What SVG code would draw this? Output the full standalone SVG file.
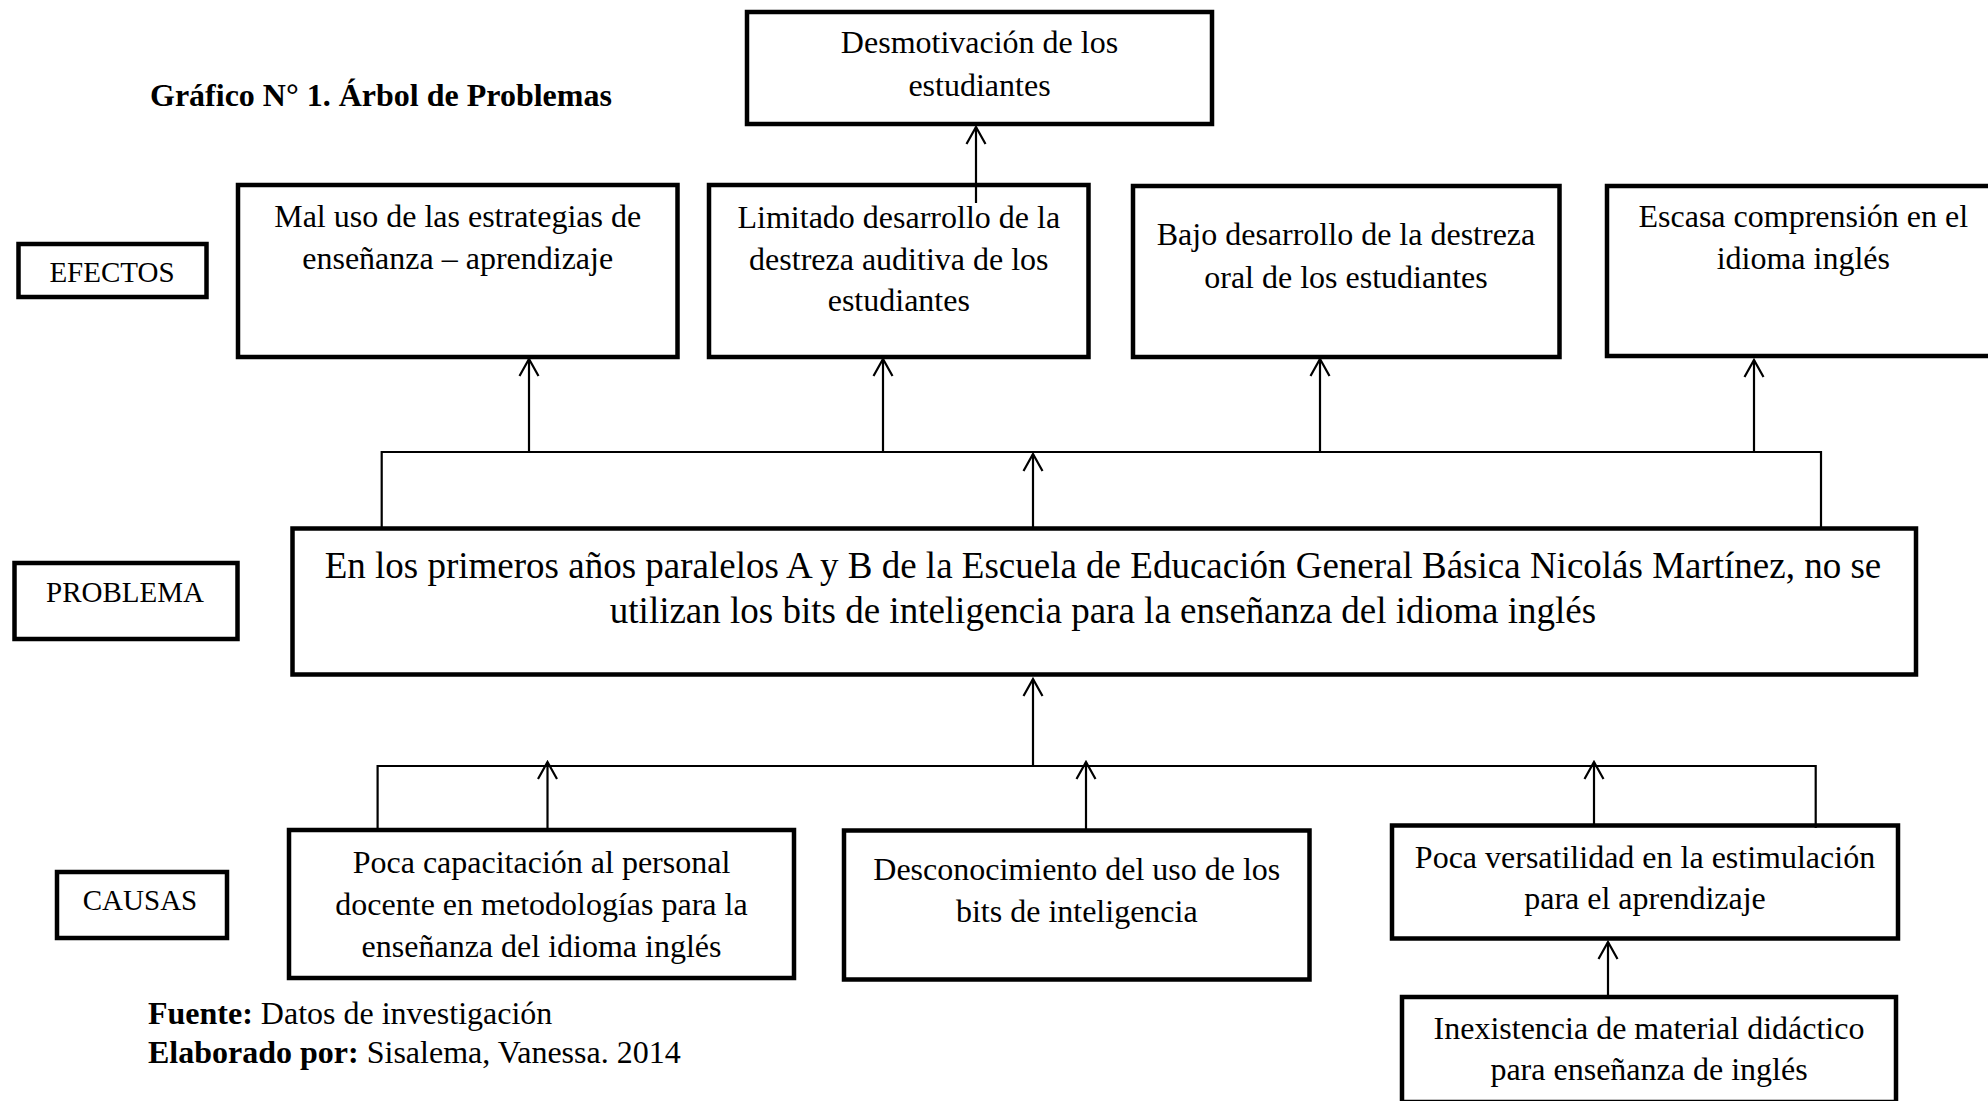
<svg xmlns="http://www.w3.org/2000/svg" width="1988" height="1101" viewBox="0 0 1988 1101">
<style>
.box{fill:#fff;stroke:#000;stroke-width:4.5}
.t{font-family:"Liberation Serif","Times New Roman",serif;font-size:32px;fill:#000;text-anchor:middle}
.lbl{font-family:"Liberation Serif","Times New Roman",serif;font-size:29px;fill:#000;text-anchor:middle}
.pt{font-family:"Liberation Serif","Times New Roman",serif;font-size:37px;fill:#000;text-anchor:middle}
.cap{font-family:"Liberation Serif","Times New Roman",serif;font-size:32px;fill:#000}
.b{font-weight:bold}
.c{fill:none;stroke:#000;stroke-width:2.2}
</style>
<defs>
<marker id="ah" viewBox="-20 -12 22 24" refX="0" refY="0" markerWidth="22" markerHeight="24" markerUnits="userSpaceOnUse" orient="auto">
<path d="M -17 -9.5 L 0 0 L -17 9.5" fill="none" stroke="#000" stroke-width="2.2"/>
</marker>
</defs>
<rect width="1988" height="1101" fill="#fff"/>

<text class="cap b" x="150" y="106">Gráfico N° 1. Árbol de Problemas</text>

<g id="efectos-label"><rect class="box" x="18.5" y="244" width="188" height="53"/><text class="lbl" x="112" y="282">EFECTOS</text></g>
<g id="problema-label"><rect class="box" x="14.5" y="563" width="223" height="76"/><text class="lbl" x="125" y="602">PROBLEMA</text></g>
<g id="causas-label"><rect class="box" x="57" y="872" width="170" height="66"/><text class="lbl" x="140" y="910">CAUSAS</text></g>

<g id="desmotivacion"><rect class="box" x="747" y="12" width="465" height="112"/>
<text class="t" x="979.5" y="53">Desmotivación de los</text><text class="t" x="979.5" y="96">estudiantes</text></g>

<g id="mal-uso"><rect class="box" x="238" y="185" width="439.5" height="172"/>
<text class="t" x="457.7" y="227">Mal uso de las estrategias de</text><text class="t" x="457.7" y="269">enseñanza – aprendizaje</text></g>

<g id="limitado"><rect class="box" x="709" y="185" width="379.5" height="172"/>
<text class="t" x="898.8" y="227.5">Limitado desarrollo de la</text><text class="t" x="898.8" y="270">destreza auditiva de los</text><text class="t" x="898.8" y="311">estudiantes</text></g>

<g id="bajo"><rect class="box" x="1133" y="186" width="426.5" height="171"/>
<text class="t" x="1346" y="244.5">Bajo desarrollo de la destreza</text><text class="t" x="1346" y="288">oral de los estudiantes</text></g>

<g id="escasa"><rect class="box" x="1607" y="186" width="430" height="170"/>
<text class="t" x="1803.3" y="226.7">Escasa comprensión en el</text><text class="t" x="1803.3" y="269">idioma inglés</text></g>

<g id="problema"><rect class="box" x="292.5" y="528.5" width="1623.5" height="146"/>
<text class="pt" x="1103" y="577.5">En los primeros años paralelos A y B de la Escuela de Educación General Básica Nicolás Martínez, no se</text>
<text class="pt" x="1103" y="623">utilizan los bits de inteligencia para la enseñanza del idioma inglés</text></g>

<g id="poca-capacitacion"><rect class="box" x="289" y="830" width="505" height="148"/>
<text class="t" x="541.5" y="873">Poca capacitación al personal</text><text class="t" x="541.5" y="914.5">docente en metodologías para la</text><text class="t" x="541.5" y="956.5">enseñanza del idioma inglés</text></g>

<g id="desconocimiento"><rect class="box" x="844" y="830.5" width="465.5" height="149"/>
<text class="t" x="1076.8" y="879.5">Desconocimiento del uso de los</text><text class="t" x="1076.8" y="921.7">bits de inteligencia</text></g>

<g id="versatilidad"><rect class="box" x="1392" y="825.5" width="506" height="113"/>
<text class="t" x="1645" y="868">Poca versatilidad en la estimulación</text><text class="t" x="1645" y="908.5">para el aprendizaje</text></g>

<g id="inexistencia"><rect class="box" x="1402" y="997" width="494" height="105"/>
<text class="t" x="1649" y="1038.5">Inexistencia de material didáctico</text><text class="t" x="1649" y="1080">para enseñanza de inglés</text></g>

<g id="fuente">
<text class="cap" x="148" y="1024">
<tspan class="b">Fuente:</tspan> Datos de investigación</text>
<text class="cap" x="148" y="1062.5"><tspan class="b">Elaborado por:</tspan> Sisalema, Vanessa. 2014</text>
</g>

<g id="connectors">
<line class="c" x1="976" y1="203" x2="976" y2="127" marker-end="url(#ah)"/>
<line class="c" x1="529" y1="452" x2="529" y2="359" marker-end="url(#ah)"/>
<line class="c" x1="883" y1="452" x2="883" y2="359" marker-end="url(#ah)"/>
<line class="c" x1="1320" y1="452" x2="1320" y2="359" marker-end="url(#ah)"/>
<line class="c" x1="1754" y1="452" x2="1754" y2="360" marker-end="url(#ah)"/>
<polyline class="c" points="381.7,527 381.7,452 1821,452 1821,527"/>
<line class="c" x1="1033" y1="527" x2="1033" y2="454" marker-end="url(#ah)"/>
<polyline class="c" points="377.6,829 377.6,766 1815.7,766 1815.7,828"/>
<line class="c" x1="1033" y1="766" x2="1033" y2="679" marker-end="url(#ah)"/>
<line class="c" x1="547.5" y1="829" x2="547.5" y2="762" marker-end="url(#ah)"/>
<line class="c" x1="1086" y1="829" x2="1086" y2="762" marker-end="url(#ah)"/>
<line class="c" x1="1594" y1="825" x2="1594" y2="762" marker-end="url(#ah)"/>
<line class="c" x1="1608" y1="995" x2="1608" y2="942" marker-end="url(#ah)"/>
</g>
</svg>
